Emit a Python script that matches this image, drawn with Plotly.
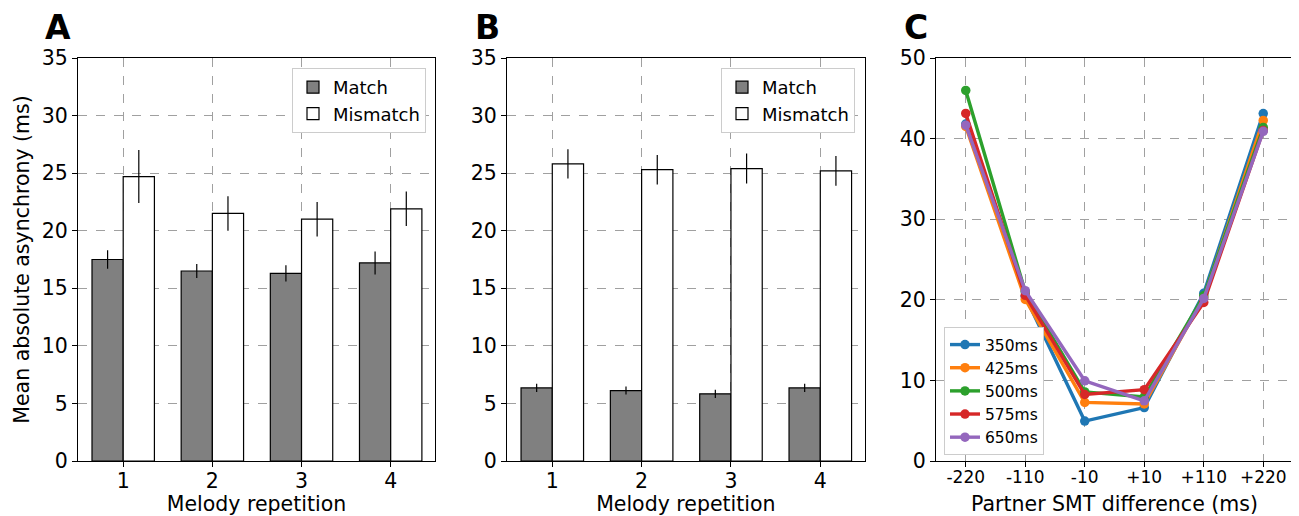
import plotly.graph_objects as go

# ---------------- data ----------------
repetitions = [1, 2, 3, 4]

a_match = [17.5, 16.5, 16.3, 17.2]
a_match_err = [0.8, 0.6, 0.7, 1.0]
a_mismatch = [24.7, 21.5, 21.0, 21.9]
a_mismatch_err = [2.3, 1.5, 1.5, 1.5]

b_match = [6.35, 6.12, 5.83, 6.35]
b_match_err = [0.35, 0.35, 0.36, 0.35]
b_mismatch = [25.8, 25.3, 25.4, 25.2]
b_mismatch_err = [1.27, 1.28, 1.3, 1.29]

smt_labels = ["-220", "-110", "-10", "+10", "+110", "+220"]
smt_350 = [41.8, 20.4, 4.95, 6.63, 20.8, 43.1]
smt_425 = [41.5, 20.05, 7.27, 7.08, 20.3, 42.25]
smt_500 = [45.98, 21.0, 8.57, 7.95, 20.5, 41.38]
smt_575 = [43.12, 20.55, 8.25, 8.85, 19.68, 41.0]
smt_650 = [41.67, 21.13, 9.95, 7.46, 20.17, 40.9]
series_names = ["350ms", "425ms", "500ms", "575ms", "650ms"]
series_colors = ["#1f77b4", "#ff7f0e", "#2ca02c", "#d62728", "#9467bd"]

# ---------------- figure ----------------
# page has an 8px body margin; figure is sized so it ends at the window edge
OFF = 8
W, H = 1299 - OFF, 516 - OFF
PL, PR, PT, PB = 78, 1293, 58, 461          # plot box in page pixels
ML, MT = PL - OFF, PT - OFF
MR = W - (PR - OFF)
MB = H - (PB - OFF)
PW, PH = W - ML - MR, H - MT - MB
FONT = "DejaVu Sans"
fig = go.Figure()


def px_x(p):
    return (p - PL) / PW


def px_y(p):
    return (PB - p) / PH


def add_bars(xaxis, yaxis, legend, match, match_err, mis, mis_err):
    fig.add_trace(go.Bar(
        x=repetitions, y=match, name="Match",
        marker=dict(color="#808080", line=dict(color="black", width=1.2)),
        error_y=dict(type="data", array=match_err, color="black", thickness=1.2, width=0),
        xaxis=xaxis, yaxis=yaxis, legend=legend, offsetgroup="m",
    ))
    fig.add_trace(go.Bar(
        x=repetitions, y=mis, name="Mismatch",
        marker=dict(color="white", line=dict(color="black", width=1.2)),
        error_y=dict(type="data", array=mis_err, color="black", thickness=1.2, width=0),
        xaxis=xaxis, yaxis=yaxis, legend=legend, offsetgroup="mm",
    ))


add_bars("x", "y", "legend", a_match, a_match_err, a_mismatch, a_mismatch_err)
add_bars("x2", "y2", "legend2", b_match, b_match_err, b_mismatch, b_mismatch_err)

for name, col, vals in zip(series_names, series_colors,
                           [smt_350, smt_425, smt_500, smt_575, smt_650]):
    fig.add_trace(go.Scatter(
        x=smt_labels, y=vals, name=name, mode="lines+markers",
        line=dict(color=col, width=3.4), marker=dict(color=col, size=9.5),
        xaxis="x3", yaxis="y3", legend="legend3",
    ))

grid = dict(showgrid=True, gridcolor="#a0a0a0", griddash="dash", gridwidth=1,
            showline=True, mirror=True, linecolor="black", linewidth=1,
            ticks="outside", ticklen=5, tickcolor="black", zeroline=False,
            automargin=False,
            tickfont=dict(family=FONT, size=20.5, color="black"))
xgrid = {**grid, "ticklabelstandoff": -4}

title_font = dict(family=FONT, size=20.5, color="black")

fig.update_layout(
    width=W, height=H, margin=dict(l=ML, r=MR, t=MT, b=MB, autoexpand=False),
    paper_bgcolor="white", plot_bgcolor="white",
    font=dict(family=FONT, color="black"),
    barmode="group", bargap=0.3, bargroupgap=0,
    xaxis=dict(domain=[px_x(78), px_x(435)], anchor="y", range=[0.493, 4.497],
               tickvals=repetitions, ticktext=[str(r) for r in repetitions],
               title=dict(text="Melody repetition", font=title_font, standoff=12),
               **xgrid),
    yaxis=dict(domain=[0, 1], anchor="x", range=[0, 35], dtick=5,
               title=dict(text="Mean absolute asynchrony (ms)", font=title_font, standoff=6),
               **grid),
    xaxis2=dict(domain=[px_x(507), px_x(864.7)], anchor="y2", range=[0.493, 4.497],
                tickvals=repetitions, ticktext=[str(r) for r in repetitions],
                title=dict(text="Melody repetition", font=title_font, standoff=12),
                **xgrid),
    yaxis2=dict(domain=[0, 1], anchor="x2", range=[0, 35], dtick=5, **grid),
    xaxis3=dict(domain=[px_x(936), 1], anchor="y3", type="category",
                range=[-0.5, 5.5],
                title=dict(text="Partner SMT difference (ms)", font=title_font, standoff=10),
                **{**xgrid, "tickfont": dict(family=FONT, size=17, color="black")}),
    yaxis3=dict(domain=[0, 1], anchor="x3", range=[0, 50], dtick=10, **grid),
    legend=dict(x=px_x(426), y=px_y(68), xanchor="right", yanchor="top",
                bgcolor="white", bordercolor="#cccccc", borderwidth=1,
                font=dict(family=FONT, size=18, color="black")),
    legend2=dict(x=px_x(855), y=px_y(68), xanchor="right", yanchor="top",
                 bgcolor="white", bordercolor="#cccccc", borderwidth=1,
                 font=dict(family=FONT, size=18, color="black")),
    legend3=dict(x=px_x(944), y=px_y(455), xanchor="left", yanchor="bottom",
                 bgcolor="white", bordercolor="#cccccc", borderwidth=1,
                 font=dict(family=FONT, size=15.5, color="black")),
    showlegend=True,
)

for letter, xp in [("A", 43), ("B", 473), ("C", 902)]:
    fig.add_annotation(text="<b>%s</b>" % letter, xref="paper", yref="paper",
                       x=px_x(xp), y=px_y(27.5), xanchor="left", yanchor="middle",
                       showarrow=False, font=dict(family=FONT, size=33, color="black"))

fig.write_html("out.html")
